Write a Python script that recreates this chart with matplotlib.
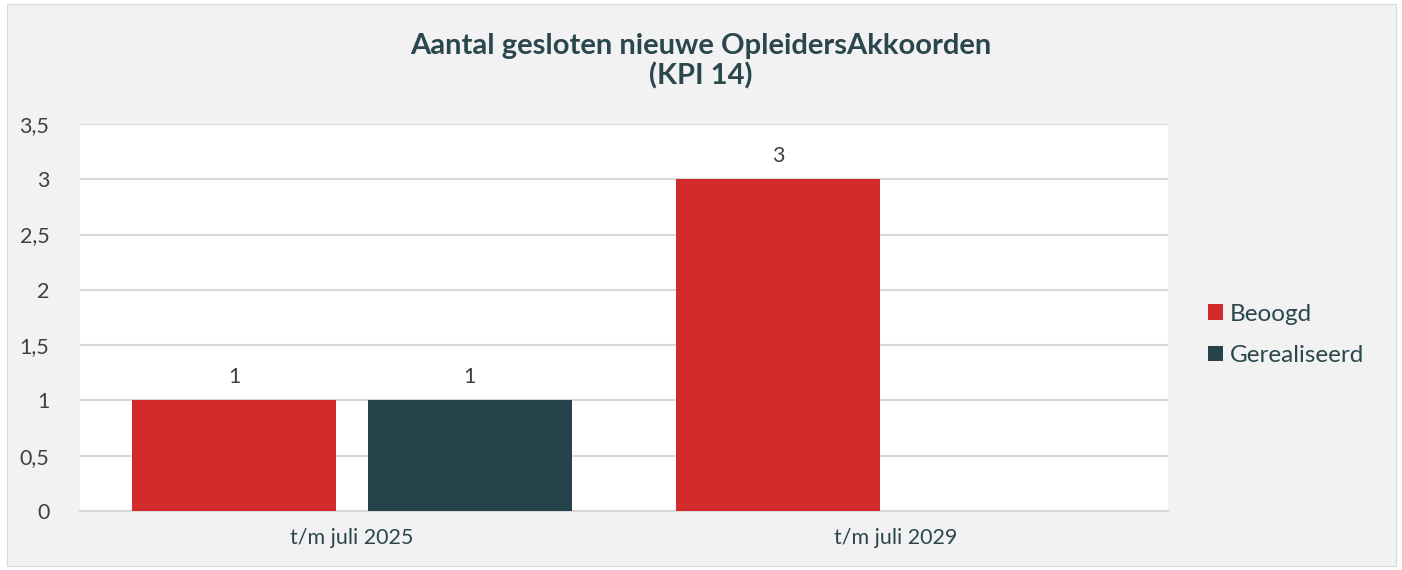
import numpy as np
import matplotlib.pyplot as plt
from matplotlib.patches import Rectangle

categories = ["t/m juli 2025", "t/m juli 2029"]
beoogd = [1, 3]
gerealiseerd = [1, np.nan]
series = [("Beoogd", beoogd, "#d12c2b"), ("Gerealiseerd", gerealiseerd, "#26424a")]

TEXT = "#2b474e"
plt.rcParams["font.family"] = ["Lato", "DejaVu Sans"]

fig = plt.figure(figsize=(14.02, 5.70), dpi=100)
fig.patch.set_facecolor("white")
fig.add_artist(Rectangle((7 / 1402, 4 / 570), 1389 / 1402, 562 / 570,
                         transform=fig.transFigure, facecolor="#f2f2f2",
                         edgecolor="#d9d9d9", lw=0.8, zorder=-10))

ax = fig.add_axes([80 / 1402, 59 / 570, 1088 / 1402, 387 / 570])
ax.set_facecolor("white")

x = np.arange(len(categories))
width = 0.375
offsets = [-0.2165, 0.2165]
for (label, vals, color), off in zip(series, offsets):
    bars = ax.bar(x + off, vals, width, color=color, label=label, zorder=3)
    for b, v in zip(bars, vals):
        if np.isnan(v):
            continue
        ax.text(b.get_x() + b.get_width() / 2, v + 0.12, f"{v:g}",
                ha="center", va="bottom", fontsize=15.5, color="#404040")

ax.set_xlim(-0.5, 1.5)
ax.set_ylim(0, 3.5)
ax.set_yticks(np.arange(0, 3.51, 0.5))
ax.set_yticklabels([f"{t:g}".replace(".", ",") for t in np.arange(0, 3.51, 0.5)])
ax.set_xticks(x)
ax.set_xticklabels(categories)
ax.tick_params(axis="both", length=0, labelsize=15.5, colors="#404040")
ax.tick_params(axis="x", pad=12, colors=TEXT)
ax.tick_params(axis="y", pad=22)
ax.grid(axis="y", color="#d9d9d9", lw=1.5, zorder=0)
for s in ["top", "left", "right"]:
    ax.spines[s].set_visible(False)
ax.spines["bottom"].set_color("#d9d9d9")
ax.spines["bottom"].set_linewidth(1.5)

fig.text(0.5, 0.893, "Aantal gesloten nieuwe OpleidersAkkoorden\n(KPI 14)",
         ha="center", va="center", fontsize=21, fontweight="bold", color=TEXT,
         linespacing=1.15)

ax.legend(loc="center left", bbox_to_anchor=(1.017, 0.455), frameon=False,
          fontsize=17.5, labelcolor=TEXT, handlelength=0.6, handleheight=0.6,
          handletextpad=0.3, labelspacing=0.85)

fig.savefig("out.png", dpi=100, facecolor=fig.get_facecolor())
